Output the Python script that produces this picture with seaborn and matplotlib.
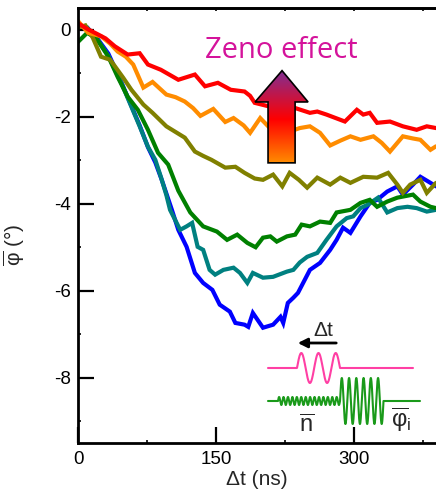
import numpy as np
import pandas as pd
import matplotlib
matplotlib.use("Agg")
import matplotlib.pyplot as plt
import seaborn as sns
from matplotlib.patches import Polygon
from matplotlib.colors import LinearSegmentedColormap
from matplotlib.ticker import MultipleLocator

# ---------------- data ----------------
t_red = [0, 10, 22, 30, 40, 54, 67, 76, 90, 109, 127, 138, 152, 166, 181, 187, 192, 209, 223, 236, 252,
         260, 270, 290, 303, 310, 317, 325, 339, 353, 368, 379, 389]
y_red = [0.15, 0.02, -0.11, -0.2, -0.38, -0.57, -0.54, -0.8, -0.92, -1.15, -1.03, -1.30, -1.22, -1.38, -1.42,
         -1.52, -1.68, -1.77, -1.91, -1.8, -1.91, -1.88, -1.95, -2.11, -1.84, -1.95, -1.91, -2.14, -2.11, -2.22,
         -2.3, -2.22, -2.26]

t_orange = [0, 11, 25, 35, 43, 52, 60, 71, 81, 96, 106, 116, 125, 133, 147, 160, 169, 180, 187, 198, 208,
            216, 230, 241, 252, 263, 274, 285, 296, 307, 321, 330, 339, 353, 364, 372, 383, 389]
y_orange = [0.2, -0.07, -0.15, -0.32, -0.5, -0.62, -0.8, -1.33, -1.2, -1.49, -1.55, -1.65, -1.8, -1.98, -1.82,
            -2.12, -2.03, -2.2, -2.37, -2.03, -2.25, -2.34, -2.34, -2.26, -2.22, -2.37, -2.66, -2.55, -2.45,
            -2.53, -2.45, -2.6, -2.8, -2.45, -2.5, -2.53, -2.76, -2.68]

t_olive = [0, 8, 16, 25, 35, 49, 58, 71, 81, 96, 106, 116, 127, 136, 145, 160, 171, 181, 192, 201, 212,
           222, 230, 240, 249, 260, 274, 285, 296, 310, 325, 337, 347, 353, 361, 372, 379, 389]
y_olive = [0.05, 0.1, -0.18, -0.62, -0.69, -1.1, -1.38, -1.72, -1.91, -2.22, -2.35, -2.48, -2.8, -2.9, -2.99,
           -3.17, -3.15, -3.29, -3.42, -3.45, -3.33, -3.6, -3.29, -3.45, -3.63, -3.4, -3.56, -3.4, -3.52, -3.38,
           -3.4, -3.29, -3.56, -3.75, -3.56, -3.45, -3.75, -3.52]

t_green = [0, 10, 20, 33, 43, 54, 65, 76, 87, 98, 109, 122, 136, 151, 162, 173, 184, 193, 201, 209, 216,
           227, 236, 243, 252, 263, 274, 281, 296, 307, 317, 325, 336, 347, 364, 372, 383, 389]
y_green = [-0.28, -0.07, -0.2, -0.62, -1.08, -1.54, -1.84, -2.3, -2.83, -3.1, -3.7, -4.2, -4.52, -4.64, -4.83,
           -4.71, -4.9, -5.0, -4.78, -4.75, -4.87, -4.75, -4.71, -4.48, -4.52, -4.41, -4.44, -4.2, -4.14, -3.98,
           -3.91, -4.07, -3.95, -3.86, -3.79, -3.95, -4.07, -4.1]

t_teal = [0, 10, 22, 33, 47, 58, 67, 76, 84, 90, 96, 100, 111, 118, 124, 130, 136, 143, 149, 158, 169, 176,
          184, 190, 201, 212, 227, 234, 241, 249, 260, 270, 281, 292, 299, 307, 315, 326, 336, 347, 358, 368,
          379, 389]
y_teal = [0.1, 0.05, -0.25, -0.6, -1.22, -1.77, -2.22, -2.69, -2.99, -3.38, -3.8, -4.14, -4.6, -4.52, -4.44,
          -4.99, -5.06, -5.52, -5.63, -5.52, -5.47, -5.59, -5.82, -5.59, -5.7, -5.68, -5.56, -5.52, -5.35, -5.22,
          -5.13, -4.83, -4.52, -4.33, -4.29, -4.1, -4.02, -3.86, -4.2, -4.1, -4.07, -4.1, -4.18, -4.14]

t_blue = [0, 10, 22, 33, 47, 58, 67, 76, 84, 91, 102, 109, 118, 127, 136, 146, 154, 165, 171, 181, 185, 190,
          201, 212, 220, 223, 228, 234, 239, 252, 263, 274, 281, 288, 296, 307, 317, 325, 336, 347, 353, 364,
          372, 383, 389]
y_blue = [0.1, 0.05, -0.23, -0.55, -1.2, -1.75, -2.2, -2.7, -3.05, -3.45, -4.14, -4.6, -4.99, -5.59, -5.82,
          -5.98, -6.32, -6.48, -6.74, -6.78, -6.83, -6.51, -6.85, -6.78, -6.6, -6.74, -6.28, -6.16, -6.05,
          -5.52, -5.36, -5.06, -4.83, -4.55, -4.67, -4.29, -3.98, -3.91, -3.72, -3.6, -3.79, -3.56, -3.38,
          -3.52, -3.6]

series_names = ["blue", "teal", "green", "olive", "orange", "red"]
series_t = [t_blue, t_teal, t_green, t_olive, t_orange, t_red]
series_y = [y_blue, y_teal, y_green, y_olive, y_orange, y_red]
palette = {"blue": "#0000ff", "teal": "#008080", "green": "#008000",
           "olive": "#808000", "orange": "#ff8c00", "red": "#ff0000"}

x_ticks = [0, 150, 300]
y_ticks = [0, -2, -4, -6, -8]

# ---------------- figure ----------------
sns.set_style("ticks")
plt.rcParams["font.family"] = ["Liberation Sans", "DejaVu Sans"]
plt.rcParams["mathtext.fontset"] = "custom"
plt.rcParams["mathtext.rm"] = "Liberation Sans"
plt.rcParams["mathtext.it"] = "Liberation Sans:italic"

fig = plt.figure(figsize=(4.36, 4.95), dpi=100)
ax = fig.add_axes([78 / 436, 1 - 443 / 495, 1 - 78 / 436, (443 - 8) / 495])

for name, tt, yy in zip(series_names, series_t, series_y):
    df = pd.DataFrame({"t": tt, "phi": yy})
    sns.lineplot(data=df, x="t", y="phi", color=palette[name], lw=3, ax=ax,
                 estimator=None, sort=False, solid_joinstyle="miter")

ax.set_xlim(0, 389)
ax.set_ylim(-9.5, 0.5)
ax.set_xticks(x_ticks)
ax.set_yticks(y_ticks)
ax.set_xticklabels([str(v) for v in x_ticks])
ax.set_yticklabels([str(v) for v in y_ticks])
ax.xaxis.set_minor_locator(MultipleLocator(75))
ax.yaxis.set_minor_locator(MultipleLocator(1))
ax.tick_params(axis="both", which="major", direction="in", length=11.5, width=1.6,
               labelsize=13.5, color="black", labelcolor="black")
ax.tick_params(axis="x", which="major", pad=6)
ax.tick_params(axis="y", which="major", pad=5)
ax.tick_params(axis="both", which="minor", direction="in", length=2.5, width=1.4)
for s in ["left", "bottom", "top"]:
    ax.spines[s].set_linewidth(2)
    ax.spines[s].set_color("black")
ax.spines["right"].set_visible(False)

sec = ax.secondary_xaxis("top")
sec.set_xticks([75, 150, 225, 300, 375])
sec.tick_params(direction="in", length=2.5, width=1.4, labeltop=False)
sec.spines["top"].set_linewidth(2)

ax.set_xlabel("Δt (ns)", fontsize=15, labelpad=1)
ax.set_ylabel(r"$\overline{\mathrm{φ}}$ (°)", fontsize=15)
ax.yaxis.set_label_coords(-0.142, 0.455)

# Zeno effect label
ax.text(0.567, 0.903, "Zeno effect", transform=ax.transAxes, ha="center", va="center",
        fontsize=21, color="#d4139b", family="Open Sans")

# gradient arrow
tip = (221.7, -0.94)
hl, hr, hb = 192.4, 250.0, -1.66
sl, sr, sb = 206.5, 235.9, -3.06
verts = [tip, (hr, hb), (sr, hb), (sr, sb), (sl, sb), (sl, hb), (hl, hb)]
poly = Polygon(verts, closed=True, facecolor="none", edgecolor="black", lw=1.2, zorder=6)
ax.add_patch(poly)
cmap = LinearSegmentedColormap.from_list("zeno", [(0, "#ff8c00"), (0.47, "#ff0000"), (1, "#7f2f96")])
grad = np.linspace(0, 1, 256).reshape(-1, 1)
im = ax.imshow(grad, extent=[hl, hr, sb, tip[1]], origin="lower", cmap=cmap, aspect="auto", zorder=5)
im.set_clip_path(poly)
ax.set_xlim(0, 389)
ax.set_ylim(-9.5, 0.5)

# pulse schematic inset (pixel-based decoration)
ins = fig.add_axes([260 / 436, 1 - 440 / 495, 176 / 436, 115 / 495])
ins.set_xlim(260, 436)
ins.set_ylim(440, 325)
ins.axis("off")
ins.patch.set_alpha(0)

xp = np.linspace(268, 413, 800)
yp = np.where((xp >= 297) & (xp <= 340), 368 - 15 * np.sin(2 * np.pi * 2.5 * (xp - 297) / 43), 368)
ins.plot(xp, yp, color="#ff3fa4", lw=1.5)

xg = np.linspace(268, 383.5, 2000)
yg = np.full_like(xg, 401.0)
m1 = (xg >= 278) & (xg < 340)
yg[m1] = 401 - 4 * np.sin(2 * np.pi * 14 * (xg[m1] - 278) / 62)
m2 = (xg >= 340)
yg[m2] = 401 - 23 * np.sin(2 * np.pi * 6 * (xg[m2] - 340) / 43.5)
ins.plot(np.r_[xg, 383.5, 420], np.r_[yg, 401, 401], color="#1a9a1a", lw=1.5)

ins.annotate("", xy=(295, 343), xytext=(339, 343),
             arrowprops=dict(arrowstyle="-|>", color="black", lw=2, mutation_scale=14))
ins.text(323, 331, "Δt", fontsize=15, ha="center", va="center")
ins.text(307, 426, r"$\overline{\mathrm{n}}$", fontsize=17, ha="center", va="center")
ins.text(401, 420, r"$\overline{\mathrm{φ}}_{\mathrm{i}}$", fontsize=17, ha="center", va="center")

fig.savefig("out.png", dpi=100)
